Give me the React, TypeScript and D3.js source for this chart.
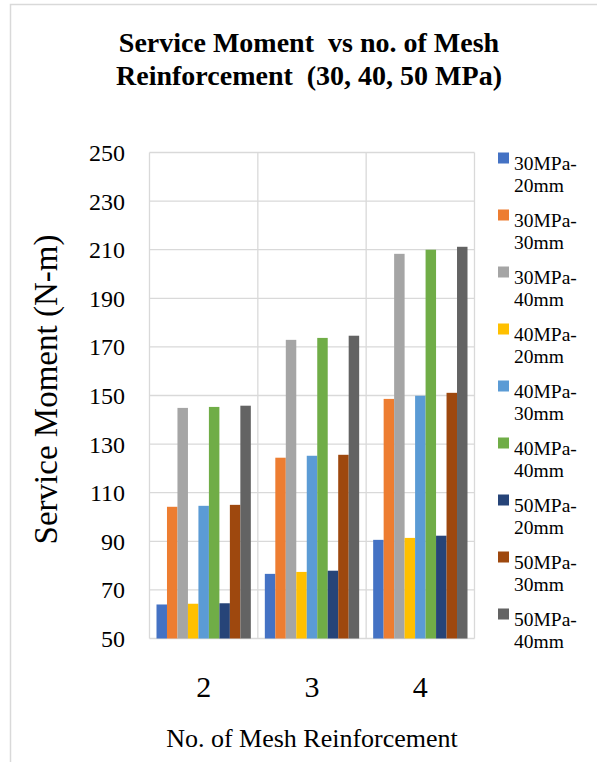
import { useEffect, useRef } from "react";
import * as d3 from "d3";

// categories on the x axis
const categories = ["2", "3", "4"];

// series names (legend)
const seriesNames = [
  "30MPa-20mm",
  "30MPa-30mm",
  "30MPa-40mm",
  "40MPa-20mm",
  "40MPa-30mm",
  "40MPa-40mm",
  "50MPa-20mm",
  "50MPa-30mm",
  "50MPa-40mm",
];

// values per series (2, 3, 4 meshes)
const s30_20 = [64, 76.6, 90.6];
const s30_30 = [104.2, 124.4, 148.6];
const s30_40 = [144.9, 172.9, 208.3];
const s40_20 = [64.3, 77.4, 91.4];
const s40_30 = [104.6, 125.2, 149.9];
const s40_40 = [145.3, 173.7, 210];
const s50_20 = [64.5, 77.9, 92.3];
const s50_30 = [105, 125.6, 151.1];
const s50_40 = [145.8, 174.6, 211.2];

const yTicks = [50, 70, 90, 110, 130, 150, 170, 190, 210, 230, 250];

const colors = [
  "#4472C4",
  "#ED7D31",
  "#A5A5A5",
  "#FFC000",
  "#5B9BD5",
  "#70AD47",
  "#264478",
  "#9E480E",
  "#636363",
];

const FONT = "'Times New Roman', 'Liberation Serif', serif";

function App() {
  const ref = useRef<SVGSVGElement>(null);

  const width = 597;
  const height = 762;
  const plot = { left: 149.5, right: 474.5, top: 152.5, bottom: 638.5 };

  useEffect(() => {
    const allSeries = [s30_20, s30_30, s30_40, s40_20, s40_30, s40_40, s50_20, s50_30, s50_40];
    const svg = d3.select(ref.current);
    svg.selectAll("*").remove();

    // outer chart frame
    svg.append("rect")
      .attr("x", 10.5)
      .attr("y", 4.5)
      .attr("width", 620)
      .attr("height", 800)
      .attr("fill", "white")
      .attr("stroke", "#d9d9d9")
      .attr("stroke-width", 1.5);

    const x0 = d3.scaleBand()
      .domain(categories)
      .range([plot.left, plot.right])
      .padding(0);

    const x1 = d3.scaleBand()
      .domain(seriesNames)
      .range([7, x0.bandwidth() - 7])
      .padding(0);

    const y = d3.scaleLinear()
      .domain([50, 250])
      .range([plot.bottom, plot.top]);

    // horizontal gridlines
    svg.append("g")
      .selectAll("line")
      .data(yTicks)
      .enter()
      .append("line")
      .attr("x1", plot.left)
      .attr("x2", plot.right)
      .attr("y1", d => y(d))
      .attr("y2", d => y(d))
      .attr("stroke", "#d9d9d9")
      .attr("stroke-width", 1.3);

    // vertical gridlines at category boundaries
    const bounds = categories.map(c => x0(c) as number).concat([plot.right]);
    svg.append("g")
      .selectAll("line")
      .data(bounds)
      .enter()
      .append("line")
      .attr("x1", d => d)
      .attr("x2", d => d)
      .attr("y1", plot.top)
      .attr("y2", plot.bottom)
      .attr("stroke", "#d9d9d9")
      .attr("stroke-width", 1.3);

    // bars
    const groups = svg.append("g")
      .selectAll("g")
      .data(categories)
      .enter()
      .append("g")
      .attr("transform", d => `translate(${x0(d)}, 0)`);

    groups.selectAll("rect")
      .data((_, ci) => seriesNames.map((name, si) => ({ name, si, value: allSeries[si][ci] })))
      .enter()
      .append("rect")
      .attr("x", d => x1(d.name) as number)
      .attr("width", x1.bandwidth())
      .attr("y", d => y(d.value))
      .attr("height", d => y(50) - y(d.value))
      .attr("fill", d => colors[d.si]);

    // y tick labels
    svg.append("g")
      .selectAll("text")
      .data(yTicks)
      .enter()
      .append("text")
      .attr("x", 125)
      .attr("y", d => y(d))
      .attr("dy", "0.35em")
      .attr("text-anchor", "end")
      .style("font-family", FONT)
      .style("font-size", "24px")
      .attr("fill", "#000")
      .text(d => d);

    // x tick labels
    svg.append("g")
      .selectAll("text")
      .data(categories)
      .enter()
      .append("text")
      .attr("x", d => (x0(d) as number) + x0.bandwidth() / 2)
      .attr("y", 697)
      .attr("text-anchor", "middle")
      .style("font-family", FONT)
      .style("font-size", "30px")
      .text(d => d);

    // axis titles
    svg.append("text")
      .attr("x", (plot.left + plot.right) / 2)
      .attr("y", 747)
      .attr("text-anchor", "middle")
      .style("font-family", FONT)
      .style("font-size", "26px")
      .text("No. of Mesh Reinforcement");

    svg.append("text")
      .attr("transform", `translate(57, ${(plot.top + plot.bottom) / 2 - 6}) rotate(-90)`)
      .attr("text-anchor", "middle")
      .style("font-family", FONT)
      .style("font-size", "33px")
      .text("Service Moment (N-m)");

    // chart title
    const title = svg.append("text")
      .attr("text-anchor", "middle")
      .style("font-family", FONT)
      .style("font-size", "28px")
      .style("font-weight", "bold")
      .style("white-space", "pre");
    title.append("tspan").attr("x", 309).attr("y", 52).text("Service Moment  vs no. of Mesh");
    title.append("tspan").attr("x", 309).attr("y", 85).text("Reinforcement  (30, 40, 50 MPa)");

    // legend
    const legend = svg.append("g")
      .selectAll("g")
      .data(seriesNames)
      .enter()
      .append("g")
      .attr("transform", (_, i) => `translate(498, ${158 + i * 57})`);

    legend.append("rect")
      .attr("x", 0)
      .attr("y", -5.5)
      .attr("width", 11)
      .attr("height", 11)
      .attr("fill", (_, i) => colors[i]);

    const lt = legend.append("text")
      .style("font-family", FONT)
      .style("font-size", "19.5px")
      .attr("fill", "#000");
    lt.append("tspan").attr("x", 16).attr("y", 11.5).text(d => d.split("-")[0] + "-");
    lt.append("tspan").attr("x", 16).attr("y", 33.5).text(d => d.split("-")[1]);
  }, []);

  return (
    <div style={{ position: "absolute", left: 0, top: 0 }}>
      <svg ref={ref} width={width} height={height} style={{ display: "block" }}></svg>
    </div>
  );
}

export default App;
